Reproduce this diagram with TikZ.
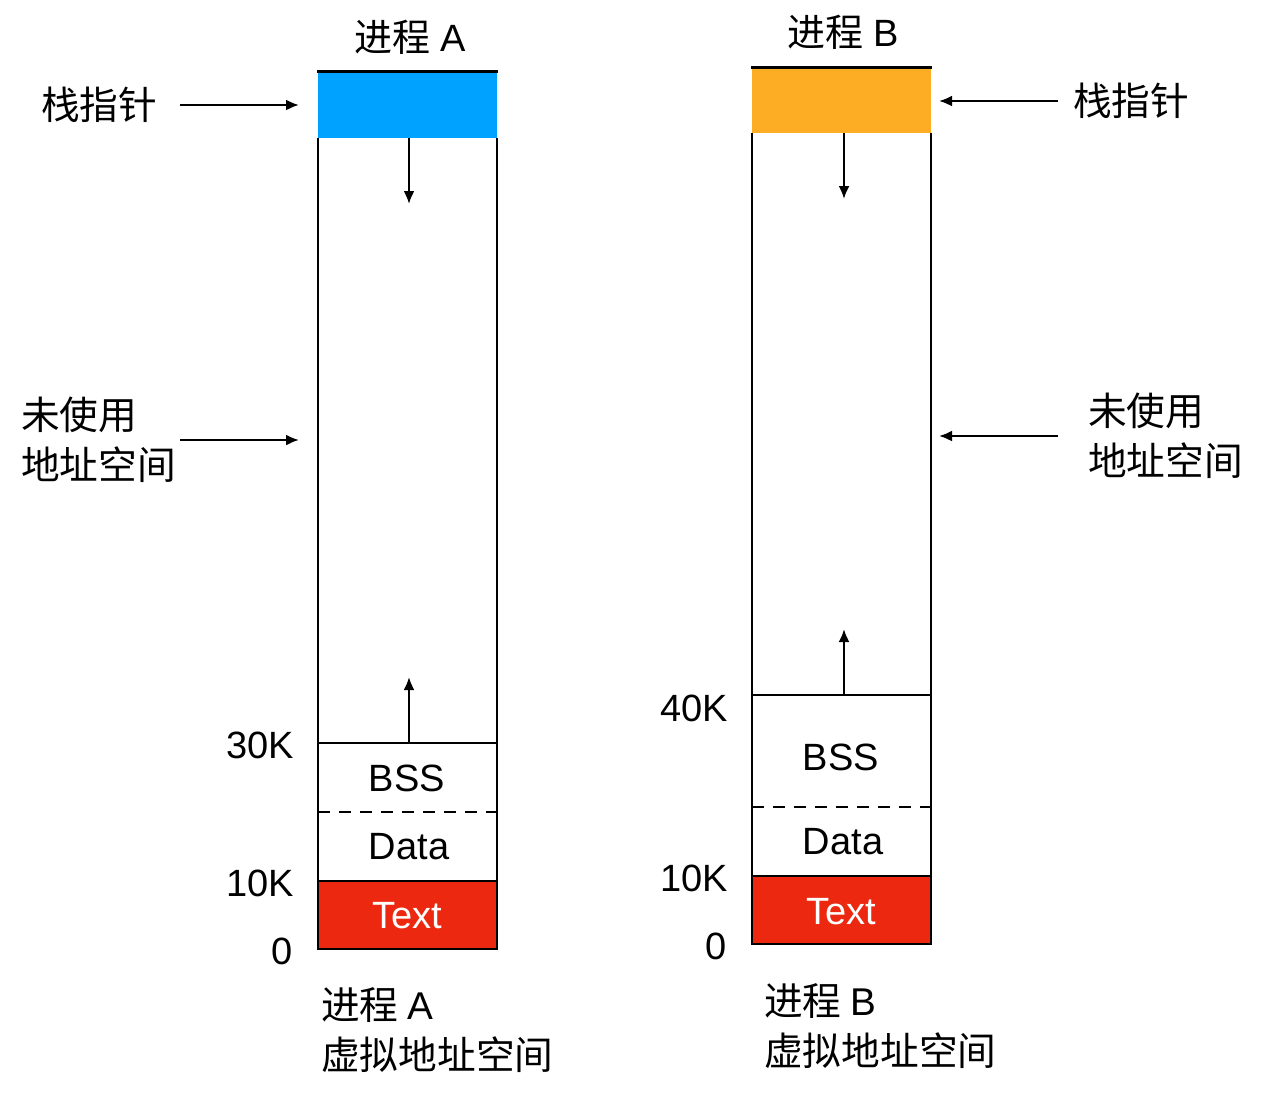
\documentclass[tikz,border=0pt]{standalone}
\usepackage{fontspec}
\setmainfont{Liberation Sans}
\newfontfamily\cjk{Noto Sans CJK SC}
\usetikzlibrary{arrows.meta}
\definecolor{stackblue}{HTML}{00A2FF}
\definecolor{stackorange}{HTML}{FDAD24}
\definecolor{textred}{HTML}{EC2910}
\begin{document}
\begin{tikzpicture}[x=1pt,y=-1pt,
  lbl/.style={inner sep=0pt,font=\fontsize{38}{50}\selectfont},
  cjklbl/.style={inner sep=0pt,font=\fontsize{38.7}{50}\selectfont\cjk,align=left},
  outer/.style={line width=2.5pt},
  inner/.style={line width=2.2pt},
  arr/.style={line width=2.2pt,-{Latex[length=13pt,width=11pt]}},
  dashline/.style={line width=2.2pt,dash pattern=on 12pt off 9pt}]
\useasboundingbox (0,0) rectangle (1281,1096);
% ---------- Process A ----------
\fill[stackblue] (318,71) rectangle (497,138);
\draw[outer] (318,138) -- (318,949) -- (497,949) -- (497,138);
\fill[textred] (318,881) rectangle (497,949);
\draw[outer] (318,881) -- (318,949) -- (497,949) -- (497,881);
\draw[line width=3pt] (317,71) -- (498,71);
\draw[inner] (318,743) -- (497,743);
\draw[dashline] (318,812) -- (497,812);
\draw[inner] (318,881) -- (497,881);
\coordinate (Astackbot) at (409,138);
\coordinate (Astackend) at (409,204);
\coordinate (Abssbot) at (409,743);
\coordinate (Abssend) at (409,677);
\draw[arr] (Astackbot) -- (Astackend);
\draw[arr] (Abssbot) -- (Abssend);
\node[lbl] (Abss) at (407,778) {BSS};
\node[lbl] (Adata) at (409,847) {Data};
\node[lbl,text=white] (Atext) at (407,916) {Text};
\node[lbl] (Atitle) at (410,37) {{\cjk 进程} A};
\node[cjklbl,anchor=west] (Asp) at (41,105) {栈指针};
\node[cjklbl,anchor=west] (Aunused) at (21,440) {未使用\\地址空间};
\coordinate (Asptip) at (299,105);
\coordinate (Aunusedtip) at (299,440);
\coordinate (Aspstart) at (180,105);
\coordinate (Aunusedstart) at (180,440);
\draw[arr] (Aspstart) -- (Asptip);
\draw[arr] (Aunusedstart) -- (Aunusedtip);
\node[lbl,anchor=east] (A30) at (294,745) {30K};
\node[lbl,anchor=east] (A10) at (294,883) {10K};
\node[lbl,anchor=east] (A0) at (293,951) {0};
\node[cjklbl,anchor=west] (Acap) at (321,1030) {进程 {\fontspec{Liberation Sans}A}\\虚拟地址空间};
% ---------- Process B ----------
\fill[stackorange] (752,67) rectangle (931,133);
\draw[outer] (752,133) -- (752,944) -- (931,944) -- (931,133);
\fill[textred] (752,876) rectangle (931,944);
\draw[outer] (752,876) -- (752,944) -- (931,944) -- (931,876);
\draw[line width=3pt] (751,67) -- (932,67);
\draw[inner] (752,695) -- (931,695);
\draw[dashline] (752,807) -- (931,807);
\draw[inner] (752,876) -- (931,876);
\coordinate (Bstackbot) at (844,133);
\coordinate (Bstackend) at (844,199);
\coordinate (Bbssbot) at (844,695);
\coordinate (Bbssend) at (844,629);
\draw[arr] (Bstackbot) -- (Bstackend);
\draw[arr] (Bbssbot) -- (Bbssend);
\node[lbl] (Bbss) at (841,757) {BSS};
\node[lbl] (Bdata) at (843,842) {Data};
\node[lbl,text=white] (Btext) at (841,912) {Text};
\node[lbl] (Btitle) at (843,32) {{\cjk 进程} B};
\node[cjklbl,anchor=west] (Bsp) at (1073,101) {栈指针};
\node[cjklbl,anchor=west] (Bunused) at (1088,436) {未使用\\地址空间};
\coordinate (Bsptip) at (939,101);
\coordinate (Bunusedtip) at (939,436);
\coordinate (Bspstart) at (1058,101);
\coordinate (Bunusedstart) at (1058,436);
\draw[arr] (Bspstart) -- (Bsptip);
\draw[arr] (Bunusedstart) -- (Bunusedtip);
\node[lbl,anchor=east] (B40) at (728,708) {40K};
\node[lbl,anchor=east] (B10) at (728,878) {10K};
\node[lbl,anchor=east] (B0) at (727,946) {0};
\node[cjklbl,anchor=west] (Bcap) at (764,1026) {进程 {\fontspec{Liberation Sans}B}\\虚拟地址空间};
\end{tikzpicture}
\end{document}
